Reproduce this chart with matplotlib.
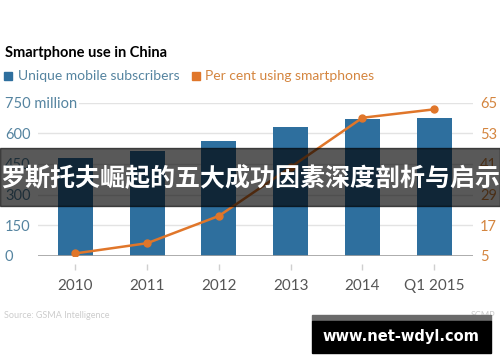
import numpy as np
import matplotlib
matplotlib.use("Agg")
import matplotlib.pyplot as plt
from matplotlib.patches import Rectangle

plt.rcParams['font.family'] = ['Lato', 'DejaVu Sans']

# data
years = ['2010', '2011', '2012', '2013', '2014', 'Q1 2015']
subscribers = [477, 515, 564, 629, 669, 673]          # million
smartphone_pct = [5.9, 9.9, 20.6, 39.7, 59.1, 62.4]   # per cent

left_ticks = [0, 150, 300, 450, 600, 750]
left_labels = ['0', '150', '300', '450', '600', '750 million']
right_ticks = [5, 17, 29, 41, 53, 65]

blue = '#2e6f9e'
orange = '#e0762a'
left_txt = '#5584a0'
right_txt = '#d4853f'

fig = plt.figure(figsize=(5, 3.62), dpi=100)
ax = fig.add_axes([0.076, 0.2936, 0.87, 0.4227])
ax2 = ax.twinx()

x = np.arange(len(years))
ax.bar(x, subscribers, width=0.49, color=blue, zorder=2)
ax.axhline(0, color='#a0a0a0', lw=1.2, zorder=3)
ax2.plot(x, smartphone_pct, color=orange, lw=1.8, marker='o', markersize=5, zorder=4)

ax.set_xlim(-0.52, 5.54)
ax.set_ylim(0, 750)
ax2.set_ylim(5, 65)

for a in (ax, ax2):
	for s in a.spines.values():
		s.set_visible(False)

# left axis
ax.set_yticks(left_ticks)
ax.set_yticklabels(left_labels)
ax.yaxis.grid(True, color='#e3e3e3', lw=1, zorder=0)
ax.set_axisbelow(True)
ax.tick_params(axis='y', length=0, pad=23.8, labelsize=10.5, labelcolor=left_txt)
for lab in ax.get_yticklabels():
	lab.set_horizontalalignment('left')
	lab.set_bbox(dict(facecolor='white', edgecolor='none', pad=1))

# right axis
ax2.set_yticks(right_ticks)
ax2.tick_params(axis='y', length=0, pad=5, labelsize=10.5, labelcolor=right_txt)

# x axis ticks sit a little below the baseline
ax.spines['bottom'].set_position(('outward', 5.8))
ax.set_xticks(x)
ax.set_xticklabels(years)
ax.tick_params(axis='x', length=4.3, width=1, color='#cfcfcf', pad=6.5,
			   labelsize=11, labelcolor='#555555')

# title and legend
fig.text(0.01, 1 - 57 / 362, 'Smartphone use in China', fontsize=10.5,
		 fontweight='bold', color='black', va='baseline')
fig.add_artist(Rectangle((0.008, 1 - 80 / 362), 0.016, 8 / 362, color=blue,
						 transform=fig.transFigure))
fig.text(0.036, 1 - 76.5 / 362, 'Unique mobile subscribers', fontsize=10,
		 color=left_txt, va='center')
fig.add_artist(Rectangle((0.384, 1 - 80 / 362), 0.016, 8 / 362, color=orange,
						 transform=fig.transFigure))
fig.text(0.41, 1 - 76.5 / 362, 'Per cent using smartphones', fontsize=10,
		 color=right_txt, va='center')

# source line
fig.text(0.008, 1 - 316 / 362, 'Source: GSMA Intelligence', fontsize=6.5,
		 color='#cccccc', va='center')
fig.text(0.99, 1 - 316 / 362, 'SCMP', fontsize=6.5, color='#cccccc',
		 va='center', ha='right')

# overlay banner
fig.add_artist(Rectangle((0, 1 - 206 / 362), 1, 58 / 362, color='black',
						 alpha=0.65, transform=fig.transFigure, zorder=5))
fig.text(0.5, 1 - 179 / 362, '罗斯托夫崛起的五大成功因素深度剖析与启示',
		 family=['Noto Sans CJK SC', 'DejaVu Sans'], fontsize=18,
		 fontweight='bold', color='white', ha='center', va='center', zorder=6)

# watermark box
fig.add_artist(Rectangle((0.624, 1 - 321 / 362), 0.358, 6 / 362, color='#6b6b6b',
						 transform=fig.transFigure, zorder=5))
fig.add_artist(Rectangle((0.624, 1 - 353 / 362), 0.358, 32 / 362, color='black',
						 transform=fig.transFigure, zorder=5))
fig.text(0.801, 1 - 337 / 362, 'www.net-wdyl.com', family='DejaVu Sans',
		 fontsize=10.5, fontweight='bold', color='white', ha='center',
		 va='center', zorder=6)

fig.savefig('out.png', dpi=100, facecolor='white')
